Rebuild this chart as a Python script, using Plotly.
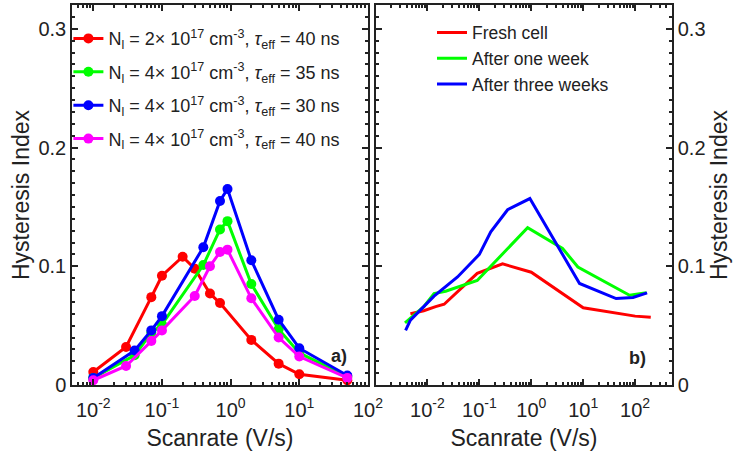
import plotly.graph_objects as go
from plotly.subplots import make_subplots

# a) simulated hysteresis index vs scan rate
rate_red = [0.01, 0.03, 0.07, 0.1, 0.2, 0.3, 0.5, 0.7, 2, 5, 10, 50]
hi_red = [0.011, 0.032, 0.074, 0.092, 0.108, 0.098, 0.077, 0.069, 0.038, 0.018, 0.009, 0.004]
rate_green = [0.01, 0.04, 0.07, 0.1, 0.4, 0.7, 0.9, 2, 5, 10, 50]
hi_green = [0.006, 0.025, 0.044, 0.051, 0.101, 0.131, 0.138, 0.085, 0.047, 0.027, 0.007]
rate_blue = [0.01, 0.04, 0.07, 0.1, 0.4, 0.7, 0.9, 2, 5, 10, 50]
hi_blue = [0.006, 0.029, 0.046, 0.058, 0.116, 0.155, 0.165, 0.105, 0.055, 0.031, 0.008]
rate_magenta = [0.01, 0.03, 0.07, 0.1, 0.3, 0.5, 0.7, 0.9, 2, 5, 10, 50]
hi_magenta = [0.004, 0.016, 0.037, 0.046, 0.075, 0.100, 0.112, 0.114, 0.073, 0.040, 0.024, 0.006]

# b) measured cell ageing
rate_fresh = [0.0047, 0.0085, 0.0144, 0.021, 0.091, 0.28, 1.0, 10, 100, 200]
hi_fresh = [0.060, 0.0625, 0.066, 0.068, 0.094, 0.102, 0.095, 0.065, 0.058, 0.057]
rate_week = [0.0037, 0.0085, 0.0134, 0.0224, 0.091, 0.85, 4.0, 7.9, 78, 165]
hi_week = [0.0524, 0.066, 0.077, 0.079, 0.088, 0.1325, 0.115, 0.0994, 0.0756, 0.0776]
rate_3weeks = [0.0038, 0.0047, 0.0085, 0.0134, 0.038, 0.1, 0.166, 0.35, 0.94, 8.5, 43, 91, 170]
hi_3weeks = [0.046, 0.0546, 0.066, 0.0748, 0.091, 0.110, 0.129, 0.1476, 0.157, 0.0855, 0.0728, 0.0737, 0.0776]

# tick labels
x_tickvals = [0.01, 0.1, 1, 10, 100]
x_ticktext = ["10<sup>-2</sup>", "10<sup>-1</sup>", "10<sup>0</sup>", "10<sup>1</sup>", "10<sup>2</sup>"]
y_tickvals = [0, 0.1, 0.2, 0.3]
y_ticktext = ["0", "0.1", "0.2", "0.3"]

sim_labels = [
    "N<sub>l</sub> = 2× 10<sup>17</sup> cm<sup>-3</sup>, <i>τ</i><sub>eff</sub> = 40 ns",
    "N<sub>l</sub> = 4× 10<sup>17</sup> cm<sup>-3</sup>, <i>τ</i><sub>eff</sub> = 35 ns",
    "N<sub>l</sub> = 4× 10<sup>17</sup> cm<sup>-3</sup>, <i>τ</i><sub>eff</sub> = 30 ns",
    "N<sub>l</sub> = 4× 10<sup>17</sup> cm<sup>-3</sup>, <i>τ</i><sub>eff</sub> = 40 ns",
]
meas_labels = ["Fresh cell", "After one week", "After three weeks"]

FONT = "Liberation Sans, Arial, sans-serif"
INK = "#222"

# minor log ticks: 2..9 within each decade
x_minor = [m * 10.0 ** e for e in range(-3, 3) for m in range(2, 10)]

fig = make_subplots(rows=1, cols=2)

sim = [(rate_red, hi_red, "#ff0000"), (rate_green, hi_green, "#00ff00"),
       (rate_blue, hi_blue, "#0000ff"), (rate_magenta, hi_magenta, "#ff00ff")]
for i, (x, y, c) in enumerate(sim):
    fig.add_trace(go.Scatter(
        x=x, y=y, mode="lines+markers", name=sim_labels[i],
        line=dict(color=c, width=3), marker=dict(color=c, size=10),
        legend="legend", legendgroup=f"s{i}",
    ), row=1, col=1)

meas = [(rate_fresh, hi_fresh, "#ff0000"), (rate_week, hi_week, "#00ff00"),
        (rate_3weeks, hi_3weeks, "#0000ff")]
for i, (x, y, c) in enumerate(meas):
    fig.add_trace(go.Scatter(
        x=x, y=y, mode="lines", name=meas_labels[i],
        line=dict(color=c, width=3), legend="legend2",
    ), row=1, col=2)

axis_common = dict(
    showline=True, linecolor=INK, linewidth=1.5, mirror="allticks",
    ticks="inside", ticklen=6, tickwidth=1.5, tickcolor=INK,
    showgrid=False, zeroline=False, automargin=False,
    tickfont=dict(size=20, color=INK, family=FONT),
)
xaxis_common = dict(
    axis_common, type="log", tickmode="array", tickvals=x_tickvals, ticktext=x_ticktext,
    tickangle=0, ticklabelstandoff=6,
    minor=dict(ticks="inside", ticklen=3, tickcolor=INK, showgrid=False,
               tickmode="array", tickvals=x_minor),
    title=dict(text="Scanrate (V/s)", font=dict(size=23, color=INK, family=FONT), standoff=10),
)
yaxis_common = dict(
    axis_common, range=[0, 0.32], tickmode="array", tickvals=y_tickvals, ticktext=y_ticktext,
    minor=dict(ticks="inside", ticklen=3, dtick=0.01, tickcolor=INK, showgrid=False),
    title=dict(text="Hysteresis Index", font=dict(size=23, color=INK, family=FONT), standoff=2),
)

fig.update_layout(
    width=735, height=455,
    margin=dict(l=72, r=63, t=5, b=70),
    paper_bgcolor="white", plot_bgcolor="white",
    font=dict(family=FONT, color=INK),
    xaxis=dict(xaxis_common, range=[-2.31, 2.0], domain=[0, 0.4933]),
    xaxis2=dict(xaxis_common, range=[-2.99, 2.71], domain=[0.5067, 1]),
    yaxis=dict(yaxis_common),
    yaxis2=dict(yaxis_common, side="right", showticklabels=True,
                title=dict(yaxis_common["title"], standoff=6)),
    legend=dict(x=-0.006, y=0.96, xanchor="left", yanchor="top",
                bgcolor="rgba(0,0,0,0)", tracegroupgap=7,
                font=dict(size=18, color=INK, family=FONT)),
    legend2=dict(x=0.60, y=0.975, xanchor="left", yanchor="top",
                 bgcolor="rgba(0,0,0,0)",
                 font=dict(size=17.5, color=INK, family=FONT)),
    annotations=[
        dict(x=1.577, y=0.0245, xref="x", yref="y", text="<b>a)</b>", showarrow=False,
             font=dict(size=18, color=INK, family=FONT)),
        dict(x=2.05, y=0.0227, xref="x2", yref="y2", text="<b>b)</b>", showarrow=False,
             font=dict(size=18, color=INK, family=FONT)),
    ],
)

fig.write_html("out.html", config={"displayModeBar": False},
               post_script="document.body.style.margin = '0';")
